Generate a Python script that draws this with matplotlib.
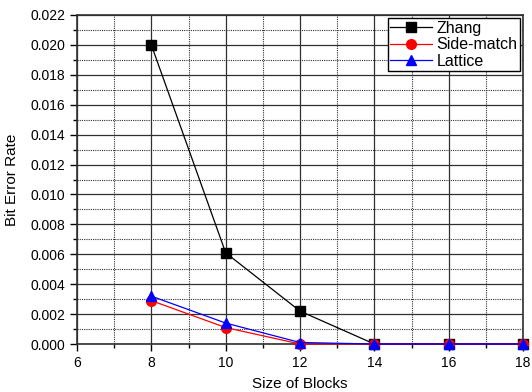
import matplotlib
matplotlib.use("Agg")
import matplotlib.pyplot as plt
from matplotlib.ticker import MultipleLocator

plt.rcParams['font.family'] = ['Liberation Sans', 'DejaVu Sans']

block_sizes = [8, 10, 12, 14, 16, 18]
zhang = [0.0200, 0.0061, 0.0022, 0.0, 0.0, 0.0]
side_match = [0.0029, 0.0011, 0.0, 0.0, 0.0, 0.0]
lattice = [0.0032, 0.0014, 0.0001, 0.0, 0.0, 0.0]

fig = plt.figure(figsize=(5.32, 3.92), dpi=100)
ax = fig.add_axes([77 / 532, 1 - 344 / 392, 446 / 532, 329 / 392])

ax.plot(block_sizes, zhang, color="black", marker="s", markersize=7, lw=0.9, label="Zhang", clip_on=False, zorder=5)
ax.plot(block_sizes, side_match, color="red", marker="o", markersize=7, lw=0.9, label="Side-match", clip_on=False, zorder=6)
ax.plot(block_sizes, lattice, color="blue", marker="^", markersize=7, lw=0.9, label="Lattice", clip_on=False, zorder=7)

ax.set_xlim(6, 18)
ax.set_ylim(0, 0.022)
ax.xaxis.set_major_locator(MultipleLocator(2))
ax.xaxis.set_minor_locator(MultipleLocator(1))
ax.yaxis.set_major_locator(MultipleLocator(0.002))
ax.yaxis.set_minor_locator(MultipleLocator(0.001))
ax.yaxis.set_major_formatter(matplotlib.ticker.FormatStrFormatter("%.3f"))

ax.grid(which="major", color="#303030", lw=0.9, ls="-")
ax.grid(which="minor", color="#303030", lw=0.8, ls=(0, (1, 1)))
ax.set_axisbelow(True)

ax.tick_params(which="major", direction="out", length=5, width=1, labelsize=10)
ax.tick_params(which="minor", direction="out", length=3, width=1)
for s in ax.spines.values():
    s.set_linewidth(1.2)
    s.set_color("#303030")

ax.set_xlabel("Size of Blocks", fontsize=11, labelpad=5)
ax.set_ylabel("Bit Error Rate", fontsize=11, labelpad=8)

leg = ax.legend(loc="upper right", fontsize=11.5, fancybox=False, edgecolor="black",
                framealpha=1, borderaxespad=0.2, handlelength=2.6, borderpad=0.15,
                labelspacing=0.1, handletextpad=0.3)
leg.get_frame().set_linewidth(1)

fig.savefig("out.png", dpi=100)
